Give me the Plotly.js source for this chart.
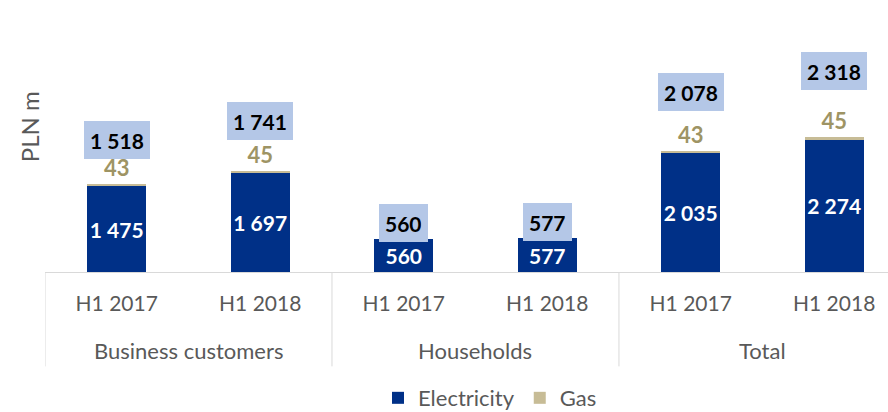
<!DOCTYPE html>
<html>
<head>
<meta charset="utf-8">
<script src="https://cdn.plot.ly/plotly-3.0.1.min.js"></script>
<style>
  html, body { margin: 0; padding: 0; background: #fff; }
  #chart { width: 888px; height: 412px; }
</style>
</head>
<body>
<div id="chart"></div>
<script>
// ---- data ----
const groups = ['Business customers', 'Households', 'Total'];
const groupIndex = [0, 0, 1, 1, 2, 2];
const periods = ['H1 2017', 'H1 2018', 'H1 2017', 'H1 2018', 'H1 2017', 'H1 2018'];
const electricity = [1475, 1697, 560, 577, 2035, 2274];
const gas = [43, 45, null, null, 43, 45];
const totals = [1518, 1741, 560, 577, 2078, 2318];
const seriesNames = ['Electricity', 'Gas'];
const yTitle = 'PLN m';

// ---- helpers ----
const fmt = v => String(v).replace(/\B(?=(\d{3})+(?!\d))/g, ' ');
const xs = periods.map((_, i) => i);
const FONT = 'Lato, "Open Sans", sans-serif';
const GRAY = '#595959';
const xRange = [-0.5, 5.375];

const traces = [
  {
    type: 'bar', name: seriesNames[0], x: xs, y: electricity, width: 0.41,
    marker: { color: '#003087' },
    text: electricity.map(fmt), textposition: 'inside', insidetextanchor: 'middle',
    textangle: 0, constraintext: 'none',
    insidetextfont: { family: FONT, size: 21, color: '#ffffff', weight: 'bold' },
    hoverinfo: 'skip'
  },
  {
    type: 'bar', name: seriesNames[1], x: xs, y: gas, width: 0.41,
    marker: { color: '#C7BC96' },
    text: gas.map(v => v == null ? '' : fmt(v)), textposition: 'outside',
    textangle: 0, constraintext: 'none', cliponaxis: false,
    outsidetextfont: { family: FONT, size: 22, color: '#9E9464', weight: 'bold' },
    hoverinfo: 'skip'
  },
  {
    type: 'scatter', mode: 'markers', x: xs, y: totals, yaxis: 'y2',
    marker: { opacity: 0 }, showlegend: false, hoverinfo: 'skip'
  }
];

const annotations = [];
totals.forEach((t, i) => {
  annotations.push({
    x: i, y: t, xref: 'x', yref: 'y2', text: fmt(t), showarrow: false,
    xanchor: 'center', yanchor: 'middle', height: 26, valign: 'middle',
    bgcolor: '#B4C7E7', borderpad: 6, borderwidth: 0,
    font: { family: FONT, size: 21, color: '#000000', weight: 'bold' }
  });
});
groups.forEach((g, gi) => {
  const idx = xs.filter(i => groupIndex[i] === gi);
  const center = idx.reduce((a, b) => a + b, 0) / idx.length;
  annotations.push({
    x: center, y: 0, xref: 'x', yref: 'paper', text: g, showarrow: false,
    xanchor: 'center', yanchor: 'middle', yshift: -78,
    font: { family: FONT, size: 22, color: GRAY }
  });
});
annotations.push({
  x: -0.018, y: 0.625, xref: 'paper', yref: 'paper', text: yTitle, showarrow: false,
  textangle: -90, xanchor: 'center', yanchor: 'middle',
  font: { family: FONT, size: 24, color: GRAY }
});

// group dividers on the category boundaries
const shapes = [];
const bounds = [];
groupIndex.forEach((g, i) => { if (i === 0 || groupIndex[i - 1] !== g) bounds.push(i - 0.5); });
bounds.push(groupIndex.length - 0.5);
bounds.forEach(b => {
  shapes.push({
    type: 'line', xref: 'x', yref: 'paper', x0: b, x1: b, y0: 0, y1: -0.405,
    line: { color: '#D9D9D9', width: 1 }
  });
});

const layout = {
  width: 888, height: 412,
  margin: { l: 45, r: 0, t: 39, b: 140, autoexpand: false },
  paper_bgcolor: '#ffffff', plot_bgcolor: '#ffffff',
  barmode: 'stack',
  font: { family: FONT, color: GRAY },
  xaxis: {
    range: xRange, tickvals: xs, ticktext: periods,
    showline: true, linecolor: '#D9D9D9', linewidth: 1,
    showgrid: false, zeroline: false, ticks: '',
    ticklabelstandoff: 13,
    tickfont: { family: FONT, size: 21, color: GRAY }
  },
  yaxis: {
    range: [0, 4000], showgrid: false, zeroline: false,
    showticklabels: false, showline: false, ticks: ''
  },
  yaxis2: {
    range: [0, 2687], overlaying: 'y', side: 'right', visible: false,
    showgrid: false, zeroline: false
  },
  showlegend: true,
  legend: {
    orientation: 'h', x: 0.395, xanchor: 'left',
    y: -0.631, yanchor: 'bottom',
    font: { family: FONT, size: 22, color: GRAY },
    traceorder: 'normal', itemclick: false
  },
  annotations: annotations,
  shapes: shapes
};

Plotly.newPlot('chart', traces, layout, { displayModeBar: false, staticPlot: true });
</script>
</body>
</html>
